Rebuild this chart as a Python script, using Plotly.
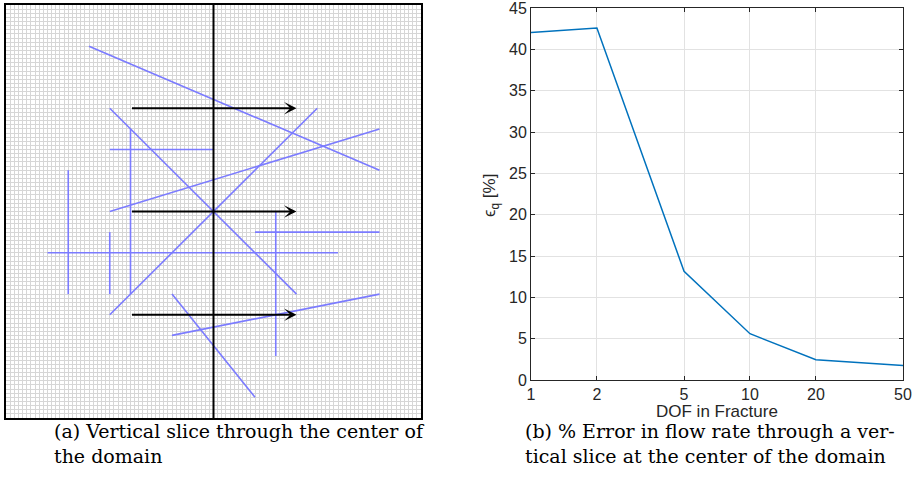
import plotly.graph_objects as go

# ---- left panel: fracture network on a 100x100 mesh ----
frac_x0 = [0.20, 0.25, 0.25, 0.25, 0.25, 0.30, 0.15, 0.25, 0.10, 0.60, 0.65, 0.40, 0.40]
frac_y0 = [0.90, 0.75, 0.25, 0.50, 0.65, 0.30, 0.30, 0.30, 0.40, 0.45, 0.15, 0.20, 0.30]
frac_x1 = [0.90, 0.70, 0.75, 0.90, 0.50, 0.30, 0.15, 0.25, 0.80, 0.90, 0.65, 0.90, 0.60]
frac_y1 = [0.60, 0.30, 0.75, 0.70, 0.65, 0.70, 0.60, 0.45, 0.40, 0.45, 0.50, 0.30, 0.05]

slice_x = 0.5
flow_y = [0.75, 0.50, 0.25]
flow_x_start = 0.3
flow_x_end = 0.7

# ---- right panel: flow-rate error vs fracture DOF ----
dof = [1, 2, 5, 10, 20, 50]
err_pct = [42.05, 42.6, 13.15, 5.6, 2.45, 1.75]
dof_ticks = [1, 2, 5, 10, 20, 50]
err_ticks = [0, 5, 10, 15, 20, 25, 30, 35, 40, 45]

W, H = 917, 495

fx, fy = [], []
for a, b, c, d in zip(frac_x0, frac_y0, frac_x1, frac_y1):
    fx += [a, c, None]
    fy += [b, d, None]

fig = go.Figure()
fig.add_trace(go.Scatter(x=fx, y=fy, mode="lines",
                         line=dict(color="#7b7bff", width=1.6),
                         xaxis="x", yaxis="y", showlegend=False, hoverinfo="skip"))
fig.add_trace(go.Scatter(x=[slice_x, slice_x], y=[0, 1], mode="lines",
                         line=dict(color="black", width=2),
                         xaxis="x", yaxis="y", showlegend=False, hoverinfo="skip"))
fig.add_trace(go.Scatter(x=dof, y=err_pct, mode="lines",
                         line=dict(color="#0072BD", width=1.5),
                         xaxis="x2", yaxis="y2", showlegend=False))

annotations = []
for yv in flow_y:
    annotations.append(dict(x=flow_x_end, y=yv, ax=flow_x_start, ay=yv,
                            xref="x", yref="y", axref="x", ayref="y",
                            text="", showarrow=True, arrowhead=3, arrowsize=1.15,
                            arrowwidth=1.8, arrowcolor="black"))

cap_font = dict(family="DejaVu Serif", size=19, color="black")
captions = [
    ("(a) Vertical slice through the center of", 52, 431),
    ("the domain", 52, 456),
    ("(b) % Error in flow rate through a ver-", 523, 431),
    ("tical slice at the center of the domain", 523, 456),
]
for txt, px, py in captions:
    annotations.append(dict(text=txt, x=px / W, y=1 - py / H, xref="paper", yref="paper",
                            xanchor="left", yanchor="middle", showarrow=False, font=cap_font))

label_font = dict(family="Liberation Sans", size=17, color="#262626")
annotations.append(dict(text="DOF in Fracture", x=717 / W, y=1 - 411 / H,
                        xref="paper", yref="paper", xanchor="center", yanchor="middle",
                        showarrow=False, font=label_font))
annotations.append(dict(text="\u03f5<sub>q</sub> [%]", x=491 / W, y=1 - 196 / H,
                        xref="paper", yref="paper", xanchor="center", yanchor="middle",
                        textangle=-90, showarrow=False, font=label_font))

tick_font = dict(family="Liberation Sans", size=16, color="#262626")

fig.update_layout(
    width=W, height=H,
    margin=dict(l=0, r=0, t=0, b=0, pad=0),
    paper_bgcolor="white", plot_bgcolor="white",
    annotations=annotations,
    xaxis=dict(domain=[6 / W, 421 / W], range=[0, 1], dtick=0.01, showgrid=True,
               gridcolor="#d6d6d6", gridwidth=1, showticklabels=False, ticks="",
               zeroline=False, showline=True, mirror=True, linecolor="black", linewidth=2,
               automargin=False),
    yaxis=dict(domain=[1 - 418 / H, 1 - 5 / H], range=[0, 1], dtick=0.01, showgrid=True,
               gridcolor="#d6d6d6", gridwidth=1, showticklabels=False, ticks="",
               zeroline=False, showline=True, mirror=True, linecolor="black", linewidth=2,
               automargin=False),
    xaxis2=dict(domain=[531 / W, 903 / W], anchor="y2", type="log",
                range=[0, 1.69897], tickmode="array", tickvals=dof_ticks,
                ticktext=[str(t) for t in dof_ticks],
                showgrid=True, gridcolor="#e2e2e2", gridwidth=1.2, zeroline=False,
                showline=True, mirror="ticks", linecolor="#262626", linewidth=1,
                ticks="inside", ticklen=4, tickcolor="#262626", tickfont=tick_font,
                ticklabeloverflow="allow", automargin=False),
    yaxis2=dict(domain=[1 - 380 / H, 1 - 8 / H], anchor="x2", range=[0, 45.02],
                tickmode="array", tickvals=err_ticks, ticktext=[str(t) for t in err_ticks],
                showgrid=True, gridcolor="#e2e2e2", gridwidth=1.2, zeroline=False,
                showline=True, mirror="ticks", linecolor="#262626", linewidth=1,
                ticks="inside", ticklen=4, tickcolor="#262626", tickfont=tick_font,
                ticklabeloverflow="allow", automargin=False),
)

fig.write_html("out.html")
